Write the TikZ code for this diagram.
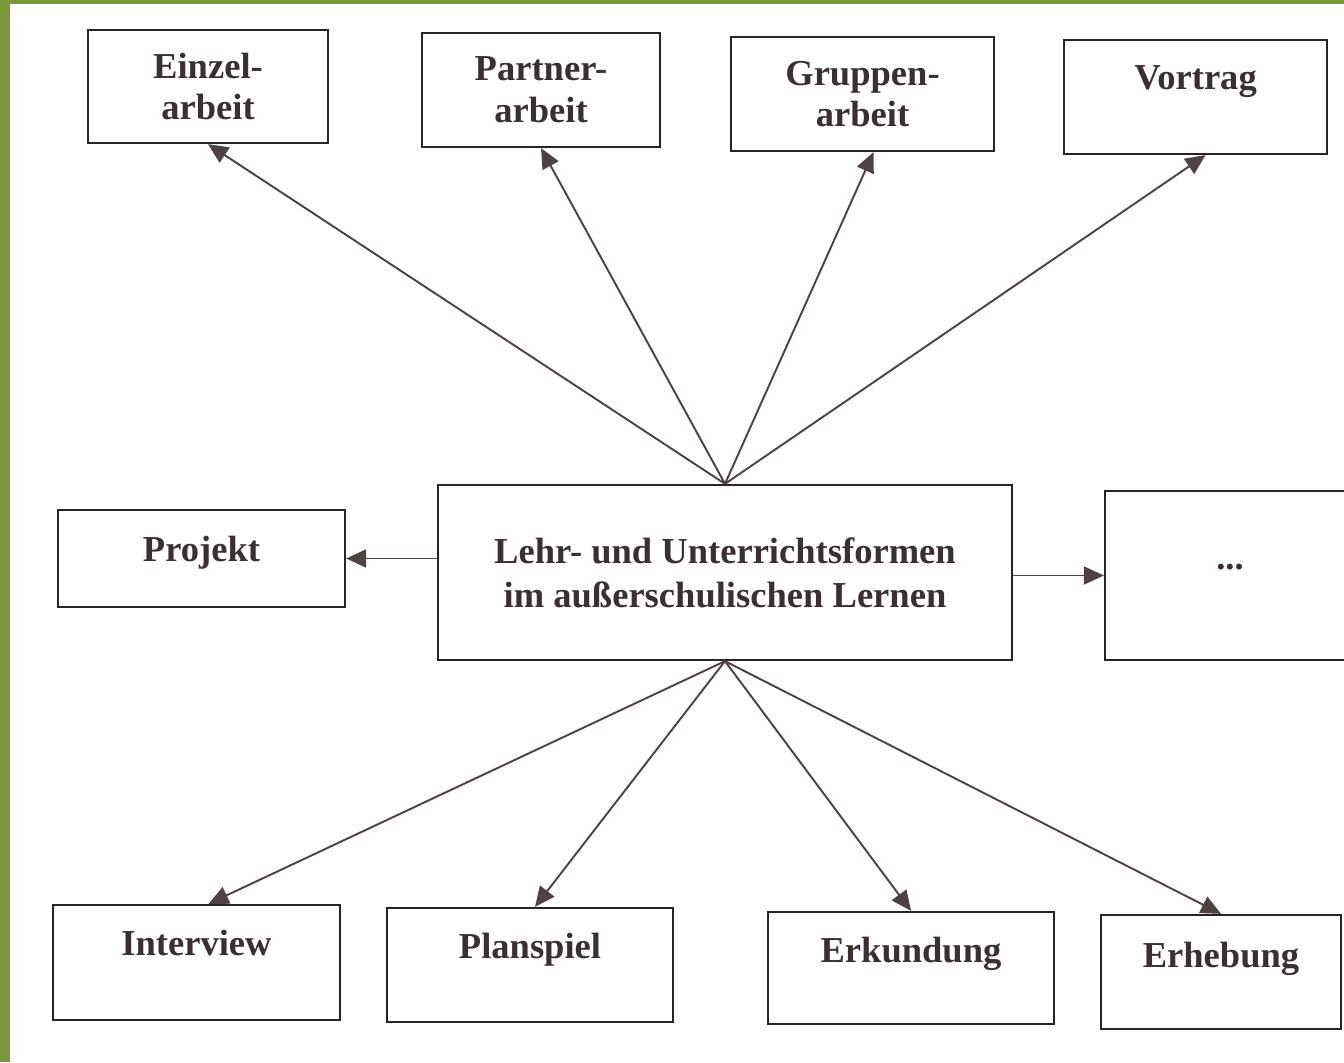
\documentclass[tikz,border=0pt]{standalone}
\usepackage{fontspec}
\setmainfont{Liberation Serif}
\usetikzlibrary{arrows.meta}
\definecolor{framegreen}{RGB}{120,152,58}
\definecolor{boxline}{RGB}{40,36,36}
\definecolor{arrowline}{RGB}{78,66,66}
\definecolor{labeltext}{RGB}{58,48,48}

\begin{document}
\begin{tikzpicture}[
    box/.style={draw=boxline, line width=1.3pt, rectangle, align=center,
      text=labeltext, font=\fontsize{20.8}{23.8}\selectfont\bfseries},
    lift/.style={text height=0.5cm, text depth=#1},
    arr/.style={draw=arrowline, line width=1.1pt,
      -{Triangle[length=0.4cm, width=0.36cm]}}
  ]
    \useasboundingbox (0,0) rectangle (26.88,21.24);
    % Frame
    \fill[framegreen] (0,0) rectangle (0.2,21.24);
    \fill[framegreen] (0,21.16) rectangle (26.88,21.24);
    % Top row
    \node[box, minimum width=4.8cm, minimum height=2.26cm] (einzel)
    at (4.16,19.51) {Einzel-\\arbeit};
    \node[box, minimum width=4.76cm, minimum height=2.28cm] (partner)
    at (10.82,19.44) {Partner-\\arbeit};
    \node[box, minimum width=5.26cm, minimum height=2.28cm] (gruppen)
    at (17.25,19.36) {Gruppen-\\arbeit};
    \node[box, lift=0.78cm, minimum width=5.26cm, minimum height=2.28cm] (vortrag)
    at (23.91,19.30) {Vortrag};
    % Middle row
    \node[box, lift=0.38cm, minimum width=5.74cm, minimum height=1.94cm] (projekt)
    at (4.03,10.07) {Projekt};
    \node[box, minimum width=11.48cm, minimum height=3.5cm,
      font=\fontsize{20.8}{25}\selectfont\bfseries] (center)
    at (14.5,9.79) {Lehr- und Unterrichtsformen\\im außerschulischen Lernen};
    \node[box, lift=0.72cm, minimum width=5cm, minimum height=3.38cm] (dots)
    at (24.6,9.73) {...};
    % Bottom row
    \node[box, lift=0.78cm, minimum width=5.74cm, minimum height=2.3cm] (interview)
    at (3.93,1.99) {Interview};
    \node[box, lift=0.78cm, minimum width=5.72cm, minimum height=2.28cm] (planspiel)
    at (10.6,1.94) {Planspiel};
    \node[box, lift=0.74cm, minimum width=5.72cm, minimum height=2.24cm] (erkundung)
    at (18.22,1.88) {Erkundung};
    \node[box, lift=0.7cm, minimum width=4.8cm, minimum height=2.28cm] (erhebung)
    at (24.42,1.80) {Erhebung};
    % Arrows
    \draw[arr] (center.north) -- (einzel.south);
    \draw[arr] (center.north) -- (partner.south);
    \draw[arr] (center.north) -- ([xshift=0.22cm]gruppen.south);
    \draw[arr] (center.north) -- ([xshift=0.2cm]vortrag.south);
    \draw[arr] (projekt -| center.west) -- (projekt.east);
    \draw[arr] (dots -| center.east) -- (dots.west);
    \draw[arr] (center.south) -- ([xshift=0.24cm]interview.north);
    \draw[arr] (center.south) -- ([xshift=0.1cm]planspiel.north);
    \draw[arr] (center.south) -- (erkundung.north);
    \draw[arr] (center.south) -- (erhebung.north);
\end{tikzpicture}
\end{document}
